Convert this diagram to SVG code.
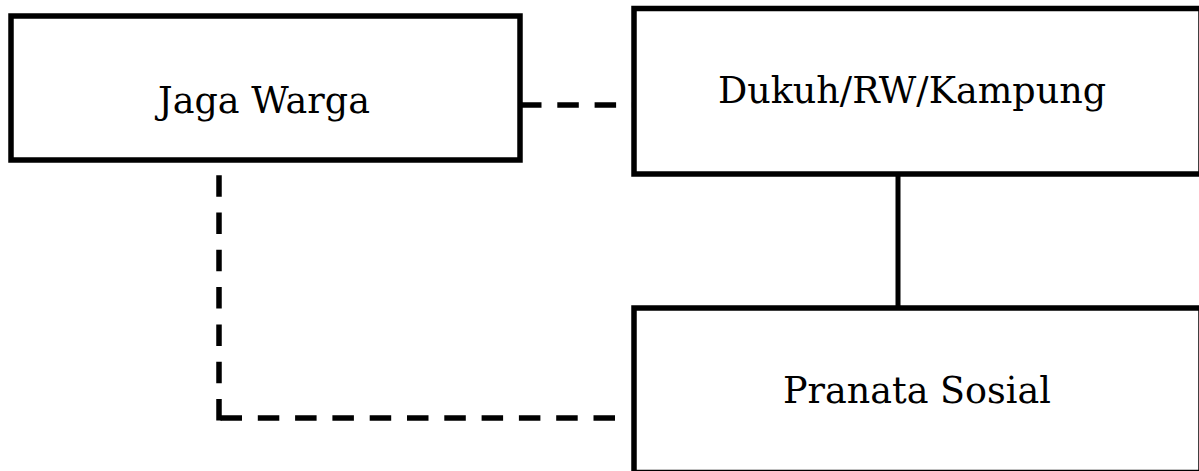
<svg xmlns="http://www.w3.org/2000/svg" width="1199" height="471" viewBox="0 0 1199 471">
<style>
.box{fill:#fff;stroke:#000;stroke-width:5.5}
.lbl{font-family:"DejaVu Serif","Liberation Serif",serif;font-size:36.5px;fill:#000;text-anchor:middle}
.dash{fill:none;stroke:#000;stroke-width:5.5;stroke-dasharray:21.5 15.8}
.solid{fill:none;stroke:#000;stroke-width:5}
</style>
<rect width="1199" height="471" fill="#fff"/>
<g id="connectors">
<path class="dash" d="M520,105 H632"/>
<path class="solid" d="M898,174 V308"/>
<path class="dash" d="M219,175.2 V420.5"/>
<path class="dash" d="M220.5,418 H616"/>
</g>
<g id="jaga-warga">
<rect class="box" x="11" y="16" width="509" height="144"/>
<text class="lbl" x="264" y="113">Jaga Warga</text>
</g>
<g id="dukuh">
<rect class="box" x="634" y="8.5" width="567" height="165.5"/>
<text class="lbl" x="912" y="103">Dukuh/RW/Kampung</text>
</g>
<g id="pranata">
<rect class="box" x="634" y="308" width="567" height="164.5"/>
<text class="lbl" x="917" y="403">Pranata Sosial</text>
</g>
</svg>
